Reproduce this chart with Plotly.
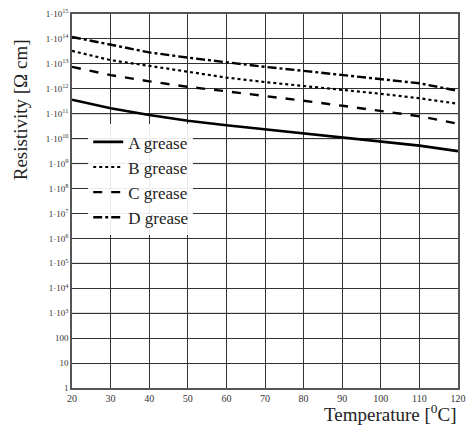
import plotly.graph_objects as go

temperature = [20, 30, 40, 50, 60, 70, 80, 90, 100, 110, 120]
log_A = [11.56, 11.22, 10.95, 10.72, 10.54, 10.38, 10.20, 10.04, 9.88, 9.72, 9.50]
log_B = [13.52, 13.15, 12.92, 12.70, 12.45, 12.27, 12.12, 11.98, 11.80, 11.62, 11.40]
log_C = [12.88, 12.55, 12.30, 12.08, 11.90, 11.72, 11.52, 11.32, 11.12, 10.90, 10.60]
log_D = [14.08, 13.78, 13.46, 13.25, 13.05, 12.88, 12.72, 12.56, 12.40, 12.22, 11.92]

series_names = ["A grease", "B grease", "C grease", "D grease"]
decades = list(range(0, 16))
ytick_text = ["1", "10", "100"] + ["1·10<sup>%d</sup>" % d for d in range(3, 16)]
light_decades = [3, 5, 9, 10, 11]
xticks = [20, 30, 40, 50, 60, 70, 80, 90, 100, 110, 120]

serif = "'Liberation Serif', serif"

fig = go.Figure()
styles = [("solid", 2.6), ("dot", 2.2), ("dash", 2.4), ("dashdot", 2.4)]
for name, vals, (dash, w) in zip(series_names, [log_A, log_B, log_C, log_D], styles):
    fig.add_trace(go.Scatter(
        x=temperature, y=[10 ** v for v in vals], mode="lines", name=name,
        line=dict(color="black", width=w, dash=dash),
    ))

for d in light_decades:
    fig.add_shape(type="line", xref="paper", x0=0, x1=1, yref="y", y0=10 ** d, y1=10 ** d,
                  line=dict(color="#bdbdbd", width=1.5), layer="between")

fig.update_layout(
    width=473, height=427,
    margin=dict(l=72, r=7, t=14, b=39),
    paper_bgcolor="white", plot_bgcolor="white",
    font=dict(family=serif, color="#222"),
    showlegend=True,
    legend=dict(x=0.042, y=0.705, xanchor="left", yanchor="top",
                bgcolor="rgba(255,255,255,0.9)", borderwidth=0,
                font=dict(family=serif, size=17, color="#222"),
                itemwidth=30, tracegroupgap=0),
    xaxis=dict(range=[20, 120], tickvals=xticks, showgrid=True, gridcolor="#333", gridwidth=1,
               showline=True, mirror=True, linecolor="#555", linewidth=1.5, zeroline=False,
               ticks="", tickfont=dict(family=serif, size=10, color="#333")),
    yaxis=dict(type="log", range=[0, 15], tickvals=[10 ** d for d in decades], ticktext=ytick_text,
               showgrid=True, gridcolor="#333", gridwidth=1,
               showline=True, mirror=True, linecolor="#555", linewidth=1.5, zeroline=False,
               ticks="", tickfont=dict(family=serif, size=9, color="#333")),
    annotations=[
        dict(text="Resistivity [Ω cm]", textangle=-90, xref="paper", yref="paper",
             x=-0.135, y=0.745, xanchor="center", yanchor="middle", showarrow=False,
             font=dict(family=serif, size=19, color="#222")),
        dict(text="Temperature [<sup>0</sup>C]", xref="paper", yref="paper",
             x=1.0, y=-0.03, xanchor="right", yanchor="top", showarrow=False,
             font=dict(family=serif, size=19, color="#222")),
    ],
)

fig.write_html("out.html")
